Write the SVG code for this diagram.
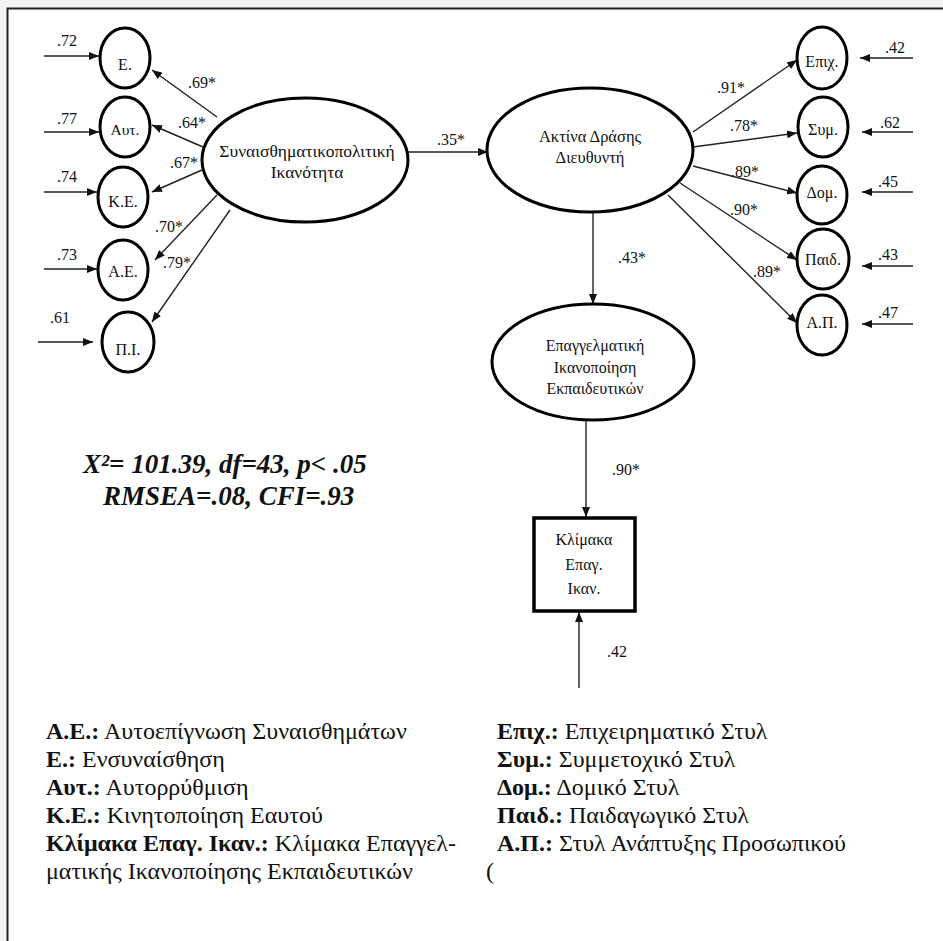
<svg xmlns="http://www.w3.org/2000/svg" width="943" height="941" viewBox="0 0 943 941">
  <style>
    .lat { fill: #fff; stroke: #000; stroke-width: 3; }
    .obs { fill: #fff; stroke: #000; stroke-width: 3.5; }
    .lbl { fill: #111; text-anchor: middle; }
    .num { font-size: 16px; fill: #111; }
    .edge { stroke: #222; stroke-width: 1.4; fill: none; marker-end: url(#ah); }
    .fit { font-size: 27px; font-weight: bold; font-style: italic; fill: #111; }
    .leg { font-size: 24px; fill: #111; }
    .k { font-weight: bold; }
  </style>
  <defs>
    <marker id="ah" markerUnits="userSpaceOnUse" markerWidth="10" markerHeight="8" viewBox="0 0 10 8" refX="10" refY="4" orient="auto">
      <path d="M0,0 L10,4 L0,8 z" fill="#111"/>
    </marker>
  </defs>

  <!-- page and frame -->
  <rect x="0" y="0" width="943" height="941" fill="#f3f3f3"/>
  <rect x="8" y="9" width="935" height="932" fill="#fff"/>
  <path d="M7.5,941 V8.5 H943" stroke="#222" stroke-width="2" fill="none"/>

  <!-- connectors -->
  <g id="connectors">
    <!-- error terms, left indicators -->
    <line class="edge" x1="44" y1="56" x2="99" y2="56"/>
    <line class="edge" x1="44" y1="132" x2="99" y2="132"/>
    <line class="edge" x1="44" y1="192" x2="97" y2="192"/>
    <line class="edge" x1="44" y1="269" x2="97" y2="269"/>
    <line class="edge" x1="38" y1="342" x2="93" y2="342"/>
    <!-- loadings, emotional-political competence -->
    <line class="edge" x1="217" y1="117" x2="152" y2="70"/>
    <line class="edge" x1="203" y1="147" x2="152" y2="125"/>
    <line class="edge" x1="202" y1="170" x2="152" y2="192"/>
    <line class="edge" x1="217" y1="195" x2="155" y2="260"/>
    <line class="edge" x1="230" y1="210" x2="152" y2="322"/>
    <!-- structural paths -->
    <line class="edge" x1="408" y1="152" x2="488" y2="152"/>
    <line class="edge" x1="593" y1="212" x2="593" y2="304"/>
    <line class="edge" x1="586" y1="421" x2="586" y2="517"/>
    <line class="edge" x1="579" y1="688" x2="579" y2="612"/>
    <!-- loadings, principal's range of action -->
    <line class="edge" x1="693" y1="132" x2="797" y2="60"/>
    <line class="edge" x1="693" y1="147" x2="797" y2="133"/>
    <line class="edge" x1="693" y1="166" x2="797" y2="193"/>
    <line class="edge" x1="680" y1="183" x2="797" y2="260"/>
    <line class="edge" x1="668" y1="195" x2="797" y2="323"/>
    <!-- error terms, right indicators -->
    <line class="edge" x1="913" y1="58" x2="860" y2="58"/>
    <line class="edge" x1="913" y1="132" x2="862" y2="132"/>
    <line class="edge" x1="913" y1="192" x2="862" y2="192"/>
    <line class="edge" x1="913" y1="266" x2="862" y2="266"/>
    <line class="edge" x1="913" y1="324" x2="862" y2="324"/>
  </g>

  <!-- connector labels -->
  <g id="edge-labels" class="num" font-family="Liberation Serif, Times New Roman, serif">
    <text x="57" y="46">.72</text>
    <text x="57" y="124">.77</text>
    <text x="57" y="182">.74</text>
    <text x="57" y="260">.73</text>
    <text x="50" y="323">.61</text>
    <text x="188" y="88">.69*</text>
    <text x="178" y="128">.64*</text>
    <text x="170" y="168">.67*</text>
    <text x="155" y="232">.70*</text>
    <text x="163" y="268">.79*</text>
    <text x="437" y="145">.35*</text>
    <text x="618" y="263">.43*</text>
    <text x="612" y="475">.90*</text>
    <text x="607" y="657">.42</text>
    <text x="717" y="93">.91*</text>
    <text x="730" y="131">.78*</text>
    <text x="731" y="177">.89*</text>
    <text x="730" y="215">.90*</text>
    <text x="753" y="277">.89*</text>
    <text x="885" y="53">.42</text>
    <text x="880" y="128">.62</text>
    <text x="878" y="187">.45</text>
    <text x="878" y="260">.43</text>
    <text x="878" y="318">.47</text>
  </g>

  <g id="nodes" font-family="Liberation Serif, Times New Roman, serif">
    <!-- left indicators -->
    <g id="n-E"><ellipse class="lat" cx="125" cy="58" rx="25" ry="30"/><text class="lbl" x="125" y="70" font-size="16">Ε.</text></g>
    <g id="n-Aut"><ellipse class="lat" cx="125" cy="127" rx="25" ry="30"/><text class="lbl" x="125" y="135" font-size="15.5">Αυτ.</text></g>
    <g id="n-KE"><ellipse class="lat" cx="123" cy="197" rx="25" ry="30"/><text class="lbl" x="123" y="207" font-size="16">Κ.Ε.</text></g>
    <g id="n-AE"><ellipse class="lat" cx="123" cy="270" rx="25" ry="30"/><text class="lbl" x="123" y="277" font-size="16">Α.Ε.</text></g>
    <g id="n-PI"><ellipse class="lat" cx="128" cy="342" rx="26" ry="30"/><text class="lbl" x="128" y="355" font-size="16">Π.Ι.</text></g>

    <!-- latent factors -->
    <g id="n-SPI">
      <ellipse class="lat" cx="305" cy="160" rx="103" ry="62"/>
      <text class="lbl" x="307" y="157" font-size="17.5">Συναισθηματικοπολιτική</text>
      <text class="lbl" x="307" y="178" font-size="17.5">Ικανότητα</text>
    </g>
    <g id="n-ADD">
      <ellipse class="lat" cx="590" cy="150" rx="103" ry="62"/>
      <text class="lbl" x="590" y="142" font-size="16.5">Ακτίνα Δράσης</text>
      <text class="lbl" x="590" y="163" font-size="16.5">Διευθυντή</text>
    </g>
    <g id="n-EIE">
      <ellipse class="lat" cx="593" cy="362" rx="101" ry="58"/>
      <text class="lbl" x="595" y="351" font-size="16">Επαγγελματική</text>
      <text class="lbl" x="595" y="373" font-size="16">Ικανοποίηση</text>
      <text class="lbl" x="595" y="394" font-size="16">Εκπαιδευτικών</text>
    </g>

    <!-- observed scale -->
    <g id="n-KEI">
      <rect class="obs" x="534" y="518" width="101" height="93"/>
      <text class="lbl" x="584" y="545" font-size="16">Κλίμακα</text>
      <text class="lbl" x="584" y="570" font-size="16">Επαγ.</text>
      <text class="lbl" x="584" y="594" font-size="16">Ικαν.</text>
    </g>

    <!-- right indicators -->
    <g id="n-Epix"><ellipse class="lat" cx="822" cy="58" rx="25" ry="31"/><text class="lbl" x="822" y="67" font-size="16">Επιχ.</text></g>
    <g id="n-Sym"><ellipse class="lat" cx="823" cy="127" rx="25" ry="30"/><text class="lbl" x="823" y="135" font-size="16">Συμ.</text></g>
    <g id="n-Dom"><ellipse class="lat" cx="822" cy="195" rx="25" ry="29"/><text class="lbl" x="822" y="198" font-size="16">Δομ.</text></g>
    <g id="n-Paid"><ellipse class="lat" cx="823" cy="259" rx="26" ry="30"/><text class="lbl" x="823" y="265" font-size="16">Παιδ.</text></g>
    <g id="n-AP"><ellipse class="lat" cx="822" cy="325" rx="25" ry="30"/><text class="lbl" x="822" y="328" font-size="16">Α.Π.</text></g>
  </g>

  <!-- fit indices -->
  <g id="fit" font-family="Liberation Serif, Times New Roman, serif">
    <text class="fit" x="83" y="473">X²= 101.39, df=43, p&lt; .05</text>
    <text class="fit" x="103" y="505">RMSEA=.08, CFI=.93</text>
  </g>

  <!-- abbreviations -->
  <g id="legend" font-family="Liberation Serif, Times New Roman, serif">
    <text class="leg" x="46" y="739"><tspan class="k">Α.Ε.:</tspan> Αυτοεπίγνωση Συναισθημάτων</text>
    <text class="leg" x="46" y="767"><tspan class="k">Ε.:</tspan> Ενσυναίσθηση</text>
    <text class="leg" x="46" y="795"><tspan class="k">Αυτ.:</tspan> Αυτορρύθμιση</text>
    <text class="leg" x="46" y="823"><tspan class="k">Κ.Ε.:</tspan> Κινητοποίηση Εαυτού</text>
    <text class="leg" x="46" y="851"><tspan class="k">Κλίμακα Επαγ. Ικαν.:</tspan> Κλίμακα Επαγγελ-</text>
    <text class="leg" x="46" y="879">ματικής Ικανοποίησης Εκπαιδευτικών</text>
    <text class="leg" x="497" y="739"><tspan class="k">Επιχ.:</tspan> Επιχειρηματικό Στυλ</text>
    <text class="leg" x="497" y="767"><tspan class="k">Συμ.:</tspan> Συμμετοχικό Στυλ</text>
    <text class="leg" x="497" y="795"><tspan class="k">Δομ.:</tspan> Δομικό Στυλ</text>
    <text class="leg" x="497" y="823"><tspan class="k">Παιδ.:</tspan> Παιδαγωγικό Στυλ</text>
    <text class="leg" x="497" y="851"><tspan class="k">Α.Π.:</tspan> Στυλ Ανάπτυξης Προσωπικού</text>
    <text class="leg" x="486" y="879" font-size="13">(</text>
  </g>
</svg>
